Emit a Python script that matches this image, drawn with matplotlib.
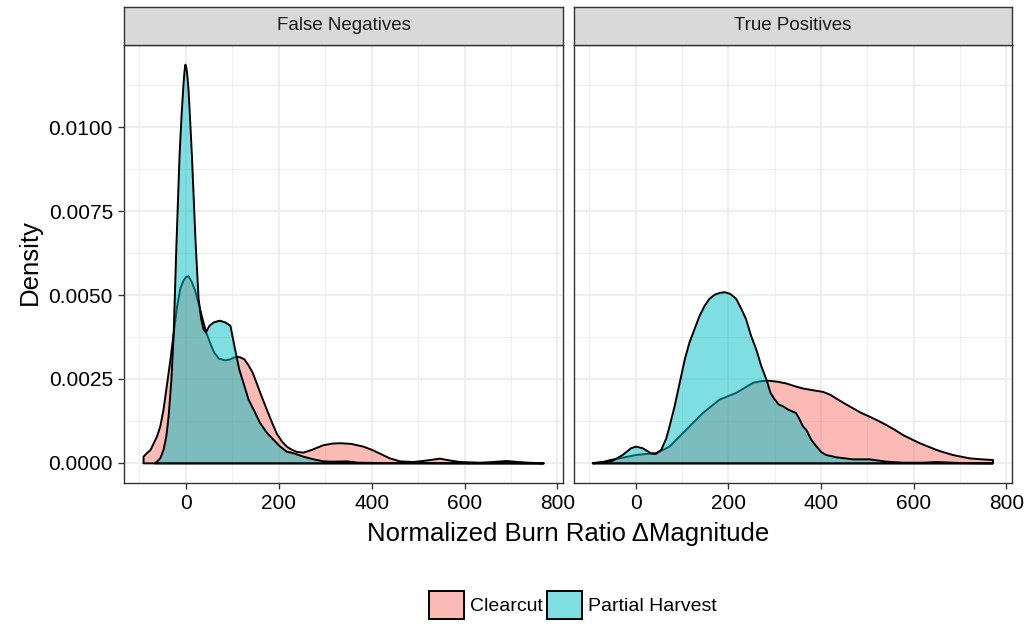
import matplotlib
matplotlib.use("Agg")
import matplotlib.pyplot as plt
from matplotlib.patches import Patch
from matplotlib.ticker import MultipleLocator, FormatStrFormatter
import numpy as np

plt.rcParams['font.family'] = ['Liberation Sans', 'DejaVu Sans']

# --- density curves ---
# False Negatives, Clearcut
fn_clear_x = [-92, -85, -77, -70, -63, -56, -49, -42, -34, -27, -20, -13, -6, 0, 5, 12, 19, 26,
              34, 43, 52, 60, 70, 84, 95, 102, 110, 116, 125, 134, 143, 152, 162, 174, 185, 195,
              206, 217, 228, 238, 252, 270, 295, 315, 331, 355, 381, 400, 417, 438, 460, 489,
              515, 546, 570, 589, 632, 660, 690, 715, 737, 768]
fn_clear_y = [0.0002, 0.0003, 0.0004, 0.0006, 0.0008, 0.0011, 0.0016, 0.0023, 0.0031, 0.0039,
              0.00465, 0.0052, 0.00545, 0.00556, 0.00557, 0.0054, 0.00515, 0.0048, 0.00435,
              0.0039, 0.00356, 0.0033, 0.00312, 0.00307, 0.0031, 0.00315, 0.00317, 0.00316,
              0.0031, 0.00292, 0.0027, 0.00237, 0.002, 0.00158, 0.0012, 0.00088, 0.00065,
              0.00049, 0.0004, 0.00034, 0.00032, 0.0004, 0.00054, 0.00059, 0.0006, 0.00058,
              0.0005, 0.0004, 0.00029, 0.00015, 0.00006, 0.00004, 0.00008, 0.00014, 0.00008,
              0.00004, 0.00002, 0.00004, 0.00007, 0.00004, 0.00002, 0.0]

# False Negatives, Partial Harvest
fn_part_x = [-68, -63, -56, -49, -43, -38, -32, -27, -21.5, -14.4, -10, -6, -4, -2, 0, 2, 5,
             8, 12, 20, 26.5, 32, 37, 42, 50, 59, 72, 84, 95, 105, 114, 123, 134, 145, 159,
             174, 188, 202, 216, 231, 252, 274, 295, 315, 345, 370, 420, 500, 600, 700, 770]
fn_part_y = [0.0, 0.00005, 0.00015, 0.0004, 0.0008, 0.0014, 0.0025, 0.0039, 0.0064, 0.0092,
             0.0104, 0.0113, 0.01165, 0.01188, 0.0118, 0.0116, 0.0111, 0.0103, 0.0092, 0.0066,
             0.0049, 0.0043, 0.0040, 0.0039, 0.0041, 0.0042, 0.00425, 0.0042, 0.0041, 0.0034,
             0.0028, 0.0024, 0.0019, 0.0016, 0.0012, 0.0009, 0.0007, 0.0005, 0.00035, 0.0003,
             0.0002, 0.00012, 0.00006, 0.00005, 0.00006, 0.00002, 0.00001, 0.00001, 0.000005,
             0.000005, 0.0]

# True Positives, Clearcut
tp_clear_x = [-93.5, -72, -55, -36, -18, 0, 22, 43, 58, 72, 90, 108, 126, 144, 162, 180, 198,
              216, 234, 252, 270, 288, 306, 324, 342, 360, 381, 403, 418, 432, 450, 468, 486,
              504, 522, 540, 558, 576, 594, 612, 630, 648, 666, 683, 701, 719, 745, 770]
tp_clear_y = [0.00001, 0.00004, 0.0001, 0.00015, 0.0002, 0.00025, 0.00028, 0.0003, 0.0004,
              0.0005, 0.00075, 0.001, 0.00125, 0.0015, 0.0017, 0.0019, 0.002, 0.0021, 0.00225,
              0.0024, 0.00245, 0.00246, 0.00243, 0.00238, 0.0023, 0.00223, 0.00218, 0.00213,
              0.00205, 0.00193, 0.00178, 0.00164, 0.0015, 0.00139, 0.00127, 0.00114, 0.001,
              0.00084, 0.00072, 0.0006, 0.0005, 0.0004, 0.00032, 0.00025, 0.0002, 0.00015,
              0.00012, 0.0001]

# True Positives, Partial Harvest
tp_part_x = [-93.5, -72, -50, -29, -11, 0, 14, 25, 32, 42, 54, 65, 72, 83, 94, 105, 115, 126,
             137, 148, 158, 170, 181, 191, 203, 216, 227, 237, 248, 259, 270, 281, 290, 299,
             308, 317, 328, 338, 345, 353, 360, 367, 378, 389, 400, 410, 432, 468, 504, 540,
             576, 620, 648, 700, 770]
tp_part_y = [0.0, 0.00003, 0.00008, 0.00025, 0.00045, 0.0005, 0.00045, 0.00036, 0.0003,
             0.00028, 0.0004, 0.00074, 0.0011, 0.0017, 0.0024, 0.0031, 0.0036, 0.0040, 0.0044,
             0.0047, 0.0049, 0.00503, 0.00508, 0.0051, 0.00505, 0.0049, 0.0046, 0.0043,
             0.0038, 0.0034, 0.0029, 0.0025, 0.0021, 0.0019, 0.00175, 0.0017, 0.0016,
             0.00154, 0.0015, 0.0013, 0.0011, 0.001, 0.0007, 0.0005, 0.00033, 0.00025,
             0.00018, 0.00012, 0.00012, 0.00005, 0.00002, 0.00002, 0.00004, 0.00001, 0.0]

panels = ["False Negatives", "True Positives"]
groups = ["Clearcut", "Partial Harvest"]
colors = ["#F8766D", "#00BFC4"]

curves = {
    ("False Negatives", "Clearcut"): (fn_clear_x, fn_clear_y),
    ("False Negatives", "Partial Harvest"): (fn_part_x, fn_part_y),
    ("True Positives", "Clearcut"): (tp_clear_x, tp_clear_y),
    ("True Positives", "Partial Harvest"): (tp_part_x, tp_part_y),
}

W, H = 1027, 626
fig = plt.figure(figsize=(W / 100, H / 100), dpi=100)

panel_px = [(124, 563), (574, 1012)]
top_px, bot_px, strip_top = 45, 483, 7
grid_col = "#EBEBEB"
border_col = "#333333"

for i, name in enumerate(panels):
    x0, x1 = panel_px[i]
    ax = fig.add_axes([x0 / W, 1 - bot_px / H, (x1 - x0) / W, (bot_px - top_px) / H])
    for g, c in zip(groups, colors):
        xs, ys = curves[(name, g)]
        ax.fill_between(xs, ys, 0, facecolor=matplotlib.colors.to_rgba(c, 0.5),
                        edgecolor="black", linewidth=1.4, zorder=3)
    ax.set_xlim(-133, 812)
    ax.set_ylim(-0.0006, 0.01245)
    ax.xaxis.set_major_locator(MultipleLocator(200))
    ax.xaxis.set_minor_locator(MultipleLocator(100))
    ax.yaxis.set_major_locator(MultipleLocator(0.0025))
    ax.yaxis.set_minor_locator(MultipleLocator(0.00125))
    ax.yaxis.set_major_formatter(FormatStrFormatter('%.4f'))
    ax.grid(True, which='major', color=grid_col, linewidth=1.2, zorder=0)
    ax.grid(True, which='minor', color=grid_col, linewidth=0.6, zorder=0)
    ax.set_axisbelow(True)
    for s in ax.spines.values():
        s.set_color(border_col)
        s.set_linewidth(1.0)
    ax.tick_params(which='major', length=4, width=1.0, color=border_col,
                   labelsize=15, labelcolor='black', pad=4)
    ax.tick_params(which='minor', length=0)
    if i == 1:
        ax.tick_params(axis='y', which='both', left=False, labelleft=False)

    # facet strip
    sax = fig.add_axes([x0 / W, 1 - top_px / H, (x1 - x0) / W, (top_px - strip_top) / H])
    sax.set_facecolor("#D9D9D9")
    sax.set_xticks([])
    sax.set_yticks([])
    for s in sax.spines.values():
        s.set_color(border_col)
        s.set_linewidth(1.0)
    sax.text(0.5, 0.5, name, ha='center', va='center', fontsize=13.5, color="#1A1A1A",
             transform=sax.transAxes)

fig.text(568 / W, 1 - 534 / H, "Normalized Burn Ratio ΔMagnitude", ha='center', va='center',
         fontsize=18.5)
fig.text(30 / W, 1 - 262 / H, "Density", ha='center', va='center', rotation=90, fontsize=18.5)

handles = [Patch(facecolor=matplotlib.colors.to_rgba(c, 0.5), edgecolor='black', linewidth=1.4)
           for c in colors]
fig.legend(handles, groups, loc='center', bbox_to_anchor=(573 / W, 1 - 605 / H), ncol=2,
           frameon=False, fontsize=14, handlelength=1.8, handleheight=1.8,
           handletextpad=0.3, columnspacing=0.2, borderpad=0)

fig.savefig("out.png", dpi=100)
